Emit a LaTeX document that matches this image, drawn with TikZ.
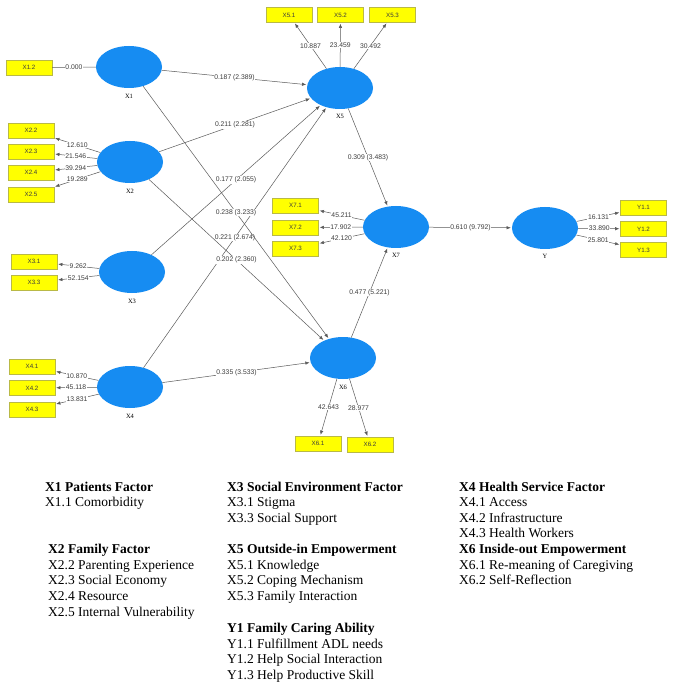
\documentclass[tikz,border=0pt]{standalone}
\usepackage{fontspec}
\setmainfont{Liberation Serif}
\newfontfamily\diag{Liberation Sans}
\usetikzlibrary{shapes.geometric,arrows.meta}
\definecolor{lvblue}{RGB}{22,140,242}
\definecolor{mvyellow}{RGB}{255,255,0}
\definecolor{mvedge}{RGB}{185,185,70}
\definecolor{ln}{RGB}{90,90,90}
\definecolor{tx}{RGB}{60,60,60}
\begin{document}
\begin{tikzpicture}[x=1pt,y=-1pt,
  lv/.style={ellipse,fill=lvblue,minimum width=66pt,minimum height=42pt,inner sep=0pt},
  mv/.style={rectangle,fill=mvyellow,draw=mvedge,line width=0.4pt,minimum width=46pt,minimum height=15pt,inner sep=0pt,font=\diag\fontsize{6.2}{7}\selectfont,text=tx},
  lvname/.style={font=\fontsize{6.5}{7}\selectfont,text=black,label distance=2pt},
  conn/.style={draw=ln,line width=0.5pt,-{Latex[length=4.2pt,width=3.4pt]},shorten >=1pt},
  plain/.style={draw=ln,line width=0.5pt},
  val/.style={fill=white,inner sep=0.6pt,font=\diag\fontsize{6.8}{7.5}\selectfont,text=tx},
  leg/.style={anchor=base west,inner sep=0pt,font=\fontsize{13.5}{15}\selectfont},
  legb/.style={leg,font=\fontsize{13.5}{15}\selectfont\bfseries}
]
\useasboundingbox (0,0) rectangle (672,684);
\fill[white] (0,0) rectangle (672,684);

% latent variables
\node[lv,label={[lvname]below:X1}] (X1) at (129,67) {};
\node[lv,label={[lvname]below:X2}] (X2) at (130,162) {};
\node[lv,label={[lvname]below:X3}] (X3) at (132,272) {};
\node[lv,label={[lvname]below:X4}] (X4) at (130,387) {};
\node[lv,label={[lvname]below:X5}] (X5) at (340,88) {};
\node[lv,label={[lvname]below:X7}] (X7) at (396,227) {};
\node[lv,label={[lvname]below:Y}] (Y) at (545,228) {};
\node[lv,label={[lvname]below:X6}] (X6) at (343,358) {};

% indicators
\node[mv] (X12) at (29,67.5) {X1.2};
\node[mv] (X22) at (31,130.5) {X2.2};
\node[mv] (X23) at (31,151.5) {X2.3};
\node[mv] (X24) at (31,172.5) {X2.4};
\node[mv] (X25) at (31,194.5) {X2.5};
\node[mv] (X51) at (289,15) {X5.1};
\node[mv] (X52) at (340.5,15) {X5.2};
\node[mv] (X53) at (392.5,15) {X5.3};
\node[mv] (X71) at (295.5,205.5) {X7.1};
\node[mv] (X72) at (295.5,227.5) {X7.2};
\node[mv] (X73) at (295.5,248.5) {X7.3};
\node[mv] (Y11) at (643.5,207.5) {Y1.1};
\node[mv] (Y12) at (643.5,229) {Y1.2};
\node[mv] (Y13) at (643.5,250) {Y1.3};
\node[mv] (X31) at (34,261.5) {X3.1};
\node[mv] (X33) at (34,282.5) {X3.3};
\node[mv] (X41) at (32,366.5) {X4.1};
\node[mv] (X42) at (32,388) {X4.2};
\node[mv] (X43) at (32,409.5) {X4.3};
\node[mv] (X61) at (318,443.5) {X6.1};
\node[mv] (X62) at (370,444.5) {X6.2};

% loadings
\draw[plain] (X1) -- node[val] {0.000} (X12);
\draw[conn] (X2) -- node[val] {12.610} (X22);
\draw[conn] (X2) -- node[val] {21.546} (X23);
\draw[conn] (X2) -- node[val] {39.294} (X24);
\draw[conn] (X2) -- node[val] {19.289} (X25);
\draw[conn] (X3) -- node[val] {9.262} (X31);
\draw[conn] (X3) -- node[val] {52.154} (X33);
\draw[conn] (X4) -- node[val] {10.870} (X41);
\draw[conn] (X4) -- node[val] {45.118} (X42);
\draw[conn] (X4) -- node[val] {13.831} (X43);
\draw[conn] (X5) -- node[val] {10.887} (X51);
\draw[conn] (X5) -- node[val] {23.459} (X52);
\draw[conn] (X5) -- node[val] {30.492} (X53);
\draw[conn] (X7) -- node[val] {45.211} (X71);
\draw[conn] (X7) -- node[val] {17.902} (X72);
\draw[conn] (X7) -- node[val] {42.120} (X73);
\draw[conn] (Y) -- node[val] {16.131} (Y11);
\draw[conn] (Y) -- node[val] {33.890} (Y12);
\draw[conn] (Y) -- node[val] {25.801} (Y13);
\draw[conn] (X6) -- node[val] {42.643} (X61);
\draw[conn] (X6) -- node[val] {28.977} (X62);

% structural paths
\draw[conn] (X1) -- node[val] {0.187 (2.389)} (X5);
\draw[conn] (X2) -- node[val] {0.211 (2.281)} (X5);
\draw[conn] (X3) -- node[val] {0.177 (2.055)} (X5);
\draw[conn] (X4) -- node[val] {0.221 (2.674)} (X5);
\draw[conn] (X1) -- node[val] {0.238 (3.233)} (X6);
\draw[conn] (X2) -- node[val] {0.202 (2.360)} (X6);
\draw[conn] (X4) -- node[val] {0.335 (3.533)} (X6);
\draw[conn] (X5) -- node[val] {0.309 (3.483)} (X7);
\draw[conn] (X6) -- node[val] {0.477 (5.221)} (X7);
\draw[conn] (X7) -- node[val] {0.610 (9.792)} (Y);

% legend
\node[legb] (l1) at (45,491) {X1 Patients Factor};
\node[leg] (l2) at (45,506.6) {X1.1 Comorbidity};
\node[legb] (l3) at (48,553.3) {X2 Family Factor};
\node[leg] (l4) at (48,569) {X2.2 Parenting Experience};
\node[leg] (l5) at (48,584.7) {X2.3 Social Economy};
\node[leg] (l6) at (48,600.5) {X2.4 Resource};
\node[leg] (l7) at (48,616.5) {X2.5 Internal Vulnerability};

\node[legb] (m1) at (227,491) {X3 Social Environment Factor};
\node[leg] (m2) at (227,506.6) {X3.1 Stigma};
\node[leg] (m3) at (227,522) {X3.3 Social Support};
\node[legb] (m4) at (227,553.3) {X5 Outside-in Empowerment};
\node[leg] (m5) at (227,569) {X5.1 Knowledge};
\node[leg] (m6) at (227,584.7) {X5.2 Coping Mechanism};
\node[leg] (m7) at (227,600.5) {X5.3 Family Interaction};
\node[legb] (m8) at (227,632.3) {Y1 Family Caring Ability};
\node[leg] (m9) at (227,648) {Y1.1 Fulfillment ADL needs};
\node[leg] (m10) at (227,663.8) {Y1.2 Help Social Interaction};
\node[leg] (m11) at (227,679.3) {Y1.3 Help Productive Skill};

\node[legb] (r1) at (459,491) {X4 Health Service Factor};
\node[leg] (r2) at (459,506.6) {X4.1 Access};
\node[leg] (r3) at (459,522) {X4.2 Infrastructure};
\node[leg] (r4) at (459,537.7) {X4.3 Health Workers};
\node[legb] (r5) at (459,553.3) {X6 Inside-out Empowerment};
\node[leg] (r6) at (459,569) {X6.1 Re-meaning of Caregiving};
\node[leg] (r7) at (459,584.7) {X6.2 Self-Reflection};
\end{tikzpicture}
\end{document}
